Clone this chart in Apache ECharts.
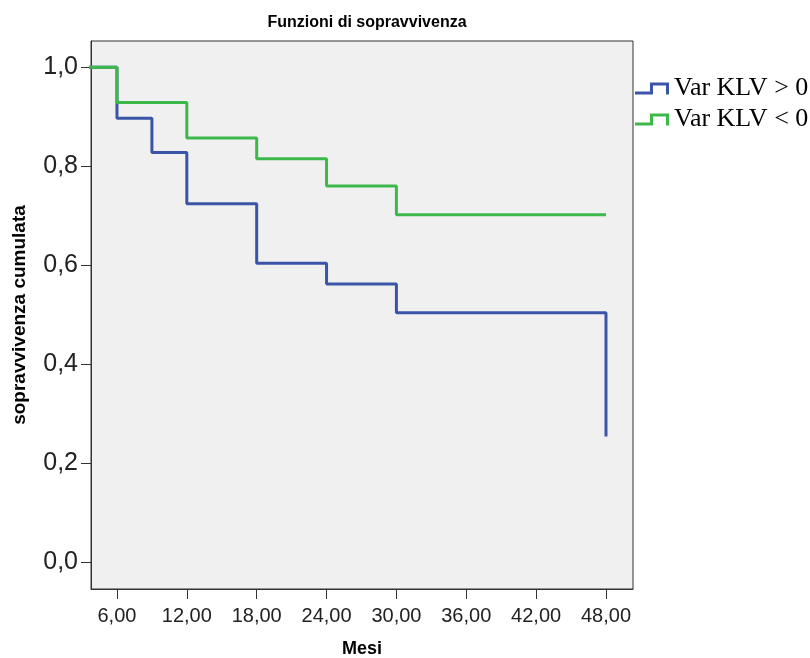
<!DOCTYPE html>
<html>
<head>
<meta charset="utf-8">
<script src="https://cdn.jsdelivr.net/npm/echarts@6/dist/echarts.min.js"></script>
<style>
  html, body { margin: 0; padding: 0; background: #ffffff; }
  #chart { width: 810px; height: 658px; }
</style>
</head>
<body>
<div id="chart"></div>
<script>
// ---- Data ----
const titleText = 'Funzioni di sopravvivenza';
const xAxisName = 'Mesi';
const yAxisName = 'sopravvivenza cumulata';
const seriesNames = ['Var KLV > 0', 'Var KLV < 0'];

// Kaplan-Meier step points: time (months) and cumulative survival
const timesPos = [0, 6, 9, 12, 18, 24, 30, 48];
const survPos  = [1.0, 0.897, 0.828, 0.724, 0.604, 0.562, 0.504, 0.254];

const timesNeg = [0, 6, 12, 18, 24, 30, 48];
const survNeg  = [1.0, 0.929, 0.857, 0.815, 0.760, 0.702, 0.702];

const xTicks = [6, 12, 18, 24, 30, 36, 42, 48];
const yTicks = [0, 0.2, 0.4, 0.6, 0.8, 1.0];

// ---- Build chart ----
const toPairs = (xs, ys) => xs.map((x, i) => [x, ys[i]]);
const stepIcon = 'path://M0,9 L15,9 L15,0 L34,0 L34,12 L31,12 L31,3 L18,3 L18,12 L0,12 Z';
const colors = ['#3a55a8', '#3cb94a'];

const chart = echarts.init(document.getElementById('chart'), null, { renderer: 'canvas' });
chart.setOption({
  animation: false,
  backgroundColor: '#ffffff',
  title: {
    text: titleText,
    left: 362,
    top: 10,
    textAlign: 'center',
    textStyle: { fontFamily: 'Liberation Sans', fontSize: 16, fontWeight: 'bold', color: '#000' }
  },
  legend: {
    orient: 'vertical',
    left: 635,
    top: 73,
    padding: 0,
    itemWidth: 34,
    itemHeight: 12,
    itemGap: 0,
    data: [
      { name: seriesNames[0], icon: stepIcon },
      { name: seriesNames[1], icon: stepIcon }
    ],
    textStyle: { fontFamily: 'Liberation Serif', fontSize: 26, lineHeight: 31, color: '#000' }
  },
  grid: {
    left: 91, top: 41, width: 542, height: 548,
    containLabel: false,
    outerBoundsMode: 'none',
    show: true, backgroundColor: '#f0f0f0', borderColor: '#333', borderWidth: 1
  },
  xAxis: {
    type: 'value',
    min: 3.77, max: 50.32,
    name: xAxisName,
    nameLocation: 'middle',
    nameGap: 51,
    nameTextStyle: { fontFamily: 'Liberation Sans', fontSize: 18, fontWeight: 'bold', color: '#000' },
    axisLine: { show: true, onZero: false, lineStyle: { color: '#333', width: 1 } },
    axisTick: { show: true, length: 10, customValues: xTicks, lineStyle: { color: '#333' } },
    axisLabel: {
      customValues: xTicks, margin: 17,
      fontFamily: 'Liberation Sans', fontSize: 20, color: '#222',
      formatter: v => v.toFixed(2).replace('.', ',')
    },
    splitLine: { show: false }
  },
  yAxis: {
    type: 'value',
    min: -0.054, max: 1.053,
    name: yAxisName,
    nameLocation: 'middle',
    nameGap: 62,
    nameTextStyle: { fontFamily: 'Liberation Sans', fontSize: 19, fontWeight: 'bold', color: '#000' },
    axisLine: { show: true, onZero: false, lineStyle: { color: '#333', width: 1 } },
    axisTick: { show: true, length: 10, customValues: yTicks, lineStyle: { color: '#333' } },
    axisLabel: {
      customValues: yTicks, margin: 13,
      fontFamily: 'Liberation Sans', fontSize: 25, color: '#222',
      formatter: v => v.toFixed(1).replace('.', ',')
    },
    splitLine: { show: false }
  },
  series: [
    {
      name: seriesNames[0], type: 'line', step: 'end', showSymbol: false, clip: true,
      data: toPairs(timesPos, survPos),
      itemStyle: { color: colors[0] },
      lineStyle: { color: colors[0], width: 3 }
    },
    {
      name: seriesNames[1], type: 'line', step: 'end', showSymbol: false, clip: true,
      data: toPairs(timesNeg, survNeg),
      itemStyle: { color: colors[1] },
      lineStyle: { color: colors[1], width: 3 }
    }
  ]
});
</script>
</body>
</html>
